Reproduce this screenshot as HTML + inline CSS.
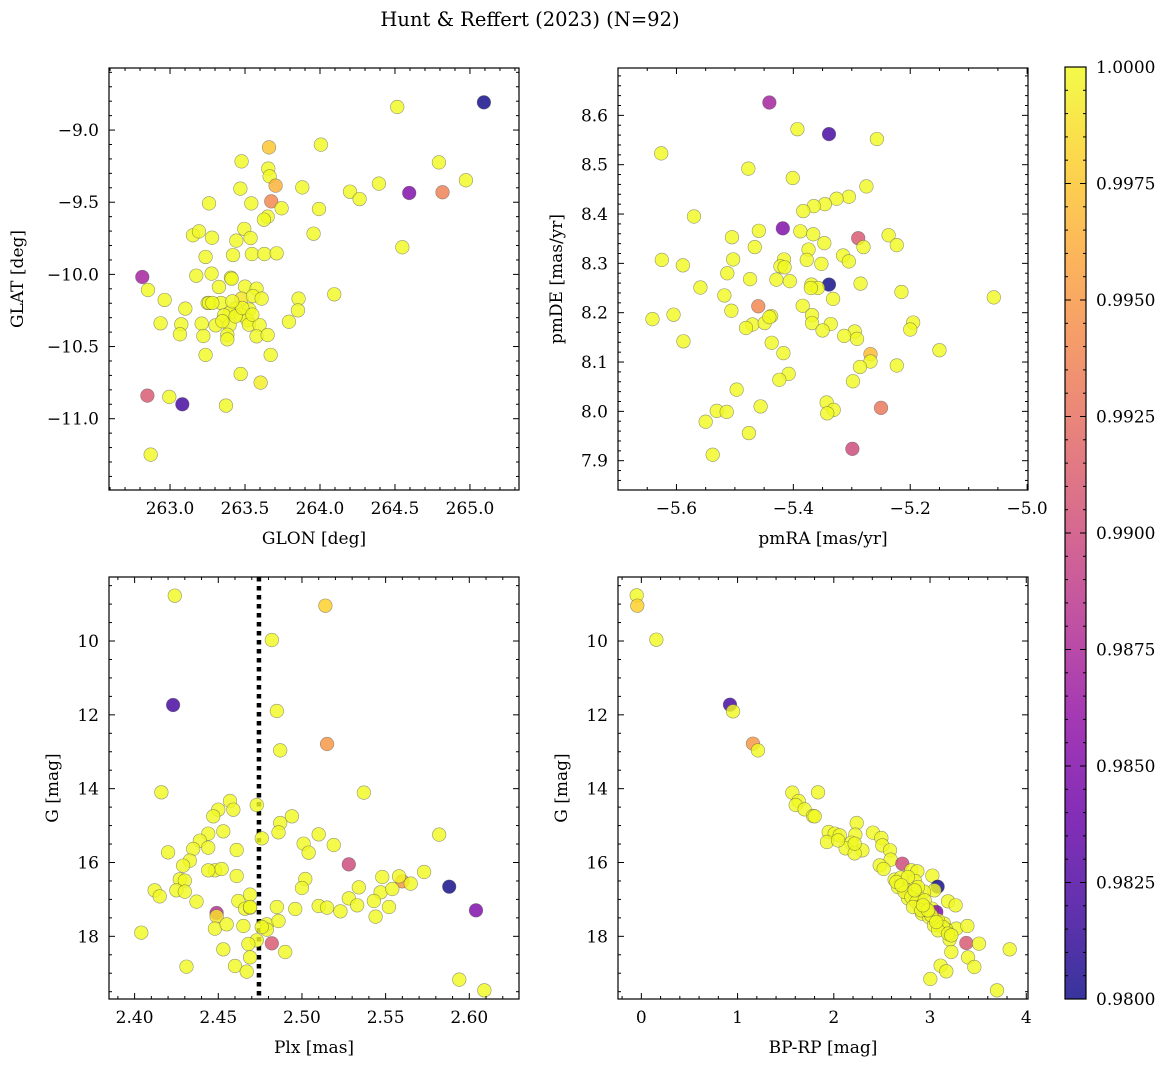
<!DOCTYPE html>
<html><head><meta charset="utf-8">
<style>
html,body{margin:0;padding:0;background:#fff;}
svg{display:block;font-family:"DejaVu Serif","Liberation Serif",serif;}
</style></head>
<body>
<svg id="fig" width="1173" height="1067" viewBox="0 0 1173 1067" xmlns="http://www.w3.org/2000/svg">
<text x="530" y="26" font-size="19.5" text-anchor="middle">Hunt &amp; Reffert (2023) (N=92)</text>
</svg>
<script>
// ---- Panel 1: GLON / GLAT ----
const glon=[265.093,264.515,264.006,263.660,263.477,264.793,263.655,263.664,263.704,263.882,264.973,264.393,264.200,264.264,264.595,264.817,263.469,263.675,263.260,263.542,263.744,263.993,263.651,263.626,263.495,263.153,263.193,263.280,263.537,263.442,263.957,264.549,263.237,263.420,263.546,263.629,263.711,262.815,263.175,263.277,263.406,263.411,263.326,263.500,263.577,262.853,264.095,262.964,263.477,263.553,263.611,263.857,263.251,263.260,263.340,263.102,263.529,263.853,263.437,263.397,263.360,263.471,262.937,263.075,263.211,263.304,263.517,263.526,263.597,263.397,263.793,263.066,263.222,263.382,263.382,263.577,263.651,263.237,263.671,263.471,263.604,262.849,262.995,263.082,263.373,262.871,263.437,263.482,263.349,263.549,263.415,263.282];
const glat=[-8.808,-8.840,-9.101,-9.120,-9.217,-9.224,-9.267,-9.321,-9.385,-9.397,-9.348,-9.371,-9.427,-9.478,-9.436,-9.431,-9.406,-9.494,-9.508,-9.508,-9.542,-9.547,-9.600,-9.621,-9.685,-9.729,-9.702,-9.746,-9.748,-9.766,-9.718,-9.812,-9.879,-9.866,-9.859,-9.859,-9.854,-10.018,-10.009,-9.995,-10.023,-10.030,-10.087,-10.085,-10.099,-10.108,-10.138,-10.177,-10.168,-10.150,-10.168,-10.168,-10.198,-10.198,-10.198,-10.237,-10.244,-10.249,-10.237,-10.267,-10.284,-10.279,-10.339,-10.346,-10.341,-10.353,-10.318,-10.348,-10.351,-10.351,-10.328,-10.415,-10.427,-10.418,-10.450,-10.429,-10.420,-10.558,-10.558,-10.690,-10.750,-10.840,-10.849,-10.900,-10.909,-11.249,-10.291,-10.233,-10.325,-10.279,-10.187,-10.198];
const prob1=[0.980,1,1,0.9975,1,1,1,1,0.9965,1,1,1,1,1,0.985,0.9935,1,0.994,1,1,1,1,1,1,1,1,1,1,1,1,1,1,1,1,1,1,1,0.987,1,1,1,1,1,1,1,1,1,1,0.999,1,1,1,1,1,1,1,1,1,1,1,1,1,1,1,1,1,1,1,1,1,1,1,1,1,1,1,1,1,1,1,0.9995,0.991,1,0.982,1,1,1,1,1,1,1,1];
// ---- Panel 2: pmRA / pmDE ----
const pmra=[-5.441,-5.393,-5.339,-5.257,-5.626,-5.477,-5.401,-5.275,-5.305,-5.326,-5.346,-5.365,-5.383,-5.570,-5.418,-5.459,-5.388,-5.366,-5.505,-5.237,-5.289,-5.347,-5.223,-5.280,-5.466,-5.374,-5.315,-5.625,-5.503,-5.377,-5.416,-5.305,-5.589,-5.422,-5.352,-5.513,-5.474,-5.429,-5.406,-5.369,-5.339,-5.285,-5.358,-5.559,-5.518,-5.215,-5.057,-5.332,-5.460,-5.384,-5.506,-5.605,-5.641,-5.438,-5.368,-5.470,-5.449,-5.481,-5.368,-5.336,-5.195,-5.200,-5.350,-5.295,-5.313,-5.291,-5.588,-5.437,-5.150,-5.417,-5.268,-5.268,-5.286,-5.223,-5.408,-5.424,-5.298,-5.497,-5.343,-5.456,-5.250,-5.531,-5.514,-5.331,-5.342,-5.550,-5.476,-5.299,-5.538,-5.415,-5.441,-5.370];
const pmde=[8.626,8.572,8.562,8.552,8.523,8.492,8.473,8.456,8.435,8.431,8.420,8.416,8.406,8.395,8.371,8.366,8.365,8.359,8.353,8.357,8.351,8.341,8.337,8.333,8.333,8.328,8.316,8.307,8.308,8.307,8.308,8.304,8.296,8.294,8.299,8.280,8.268,8.267,8.264,8.257,8.257,8.259,8.250,8.251,8.235,8.242,8.231,8.228,8.213,8.214,8.204,8.196,8.187,8.193,8.195,8.176,8.179,8.169,8.179,8.177,8.180,8.166,8.164,8.162,8.153,8.147,8.142,8.139,8.124,8.118,8.116,8.101,8.090,8.093,8.076,8.064,8.061,8.044,8.018,8.010,8.007,8.001,7.999,8.003,7.996,7.979,7.956,7.924,7.912,8.292,8.191,8.250];
const prob2=[0.987,1,0.982,1,1,1,1,1,1,1,1,1,1,1,0.985,1,1,1,1,1,0.991,1,1,1,1,1,1,1,1,1,1,1,1,1,1,1,1,1,1,1,0.980,1,1,1,1,1,1,1,0.994,1,1,1,1,1,1,1,1,1,1,1,1,1,1,1,1,1,1,1,1,1,0.997,1,1,1,1,1,1,1,1,1,0.993,1,1,1,1,1,1,0.990,1,1,1,1];
// ---- Panel 3: Plx / G ----
const plx=[2.424,2.514,2.482,2.423,2.485,2.487,2.515,2.416,2.537,2.473,2.457,2.450,2.459,2.447,2.494,2.487,2.486,2.453,2.444,2.439,2.444,2.435,2.461,2.476,2.510,2.501,2.504,2.519,2.582,2.420,2.433,2.429,2.528,2.448,2.452,2.461,2.427,2.430,2.502,2.500,2.548,2.560,2.558,2.565,2.573,2.588,2.412,2.415,2.425,2.430,2.437,2.534,2.547,2.554,2.528,2.543,2.604,2.462,2.469,2.466,2.469,2.485,2.496,2.510,2.515,2.523,2.533,2.552,2.544,2.449,2.449,2.448,2.455,2.465,2.479,2.479,2.486,2.404,2.473,2.468,2.482,2.490,2.453,2.469,2.431,2.460,2.467,2.594,2.609,2.469,2.444,2.476];
const gmag3=[8.772,9.043,9.973,11.734,11.896,12.962,12.790,14.099,14.108,14.442,14.334,14.569,14.569,14.749,14.749,14.930,15.183,15.156,15.219,15.409,15.598,15.634,15.661,15.345,15.237,15.490,15.734,15.526,15.246,15.725,15.950,16.086,16.050,16.212,16.176,16.366,16.456,16.492,16.447,16.691,16.393,16.510,16.375,16.573,16.257,16.655,16.754,16.917,16.754,16.790,17.061,16.673,16.808,16.718,16.971,17.043,17.296,17.043,16.871,17.251,17.223,17.205,17.260,17.178,17.223,17.323,17.160,17.205,17.467,17.368,17.458,17.792,17.675,17.720,17.675,17.819,17.585,17.901,18.108,18.208,18.190,18.424,18.352,18.569,18.822,18.804,18.957,19.174,19.463,17.205,16.212,17.747];
const prob3=[1,0.998,1,0.982,1,1,0.995,1,1,1,1,1,1,1,1,1,1,1,1,1,1,1,1,1,1,1,1,1,1,1,1,1,0.990,1,1,1,1,1,1,1,1,0.995,1,1,1,0.980,1,1,1,1,1,1,1,1,1,1,0.985,1,1,1,1,1,1,1,1,1,1,1,1,0.988,0.999,1,1,1,1,1,1,1,1,1,0.991,1,1,1,1,1,1,1,1,1,1,1];
const plxLine=[2.4743];
// ---- Panel 4: BP-RP / G ----
const bprp=[-0.048,-0.042,0.156,0.921,0.953,1.160,1.212,1.569,1.836,1.635,1.604,1.697,1.784,1.801,2.238,1.947,2.009,2.061,2.224,1.929,2.182,2.123,2.297,2.217,2.407,2.494,2.504,2.584,2.591,2.477,2.518,2.712,2.806,2.868,2.632,2.698,2.844,3.024,3.079,3.045,2.743,2.937,2.771,2.875,3.187,3.266,2.944,3.020,2.917,2.989,3.065,3.041,3.145,3.273,3.169,3.388,3.204,3.377,3.509,3.828,3.221,3.395,3.110,3.169,3.460,3.003,3.696,2.667,2.736,2.806,2.858,2.892,2.962,3.083,3.135,2.771,2.875,2.944,2.650,2.702,2.823,2.910,3.013,3.083,3.187,3.221,2.044,2.217,2.979,2.840,2.927,3.065];
const gmag4=[8.763,9.043,9.964,11.725,11.905,12.781,12.962,14.108,14.099,14.334,14.442,14.560,14.740,14.749,14.930,15.174,15.219,15.264,15.246,15.445,15.463,15.616,15.670,15.752,15.192,15.336,15.535,15.670,15.923,16.077,16.176,16.032,16.212,16.239,16.465,16.411,16.501,16.357,16.655,16.754,16.727,16.790,16.971,16.917,17.052,17.160,17.205,17.251,17.386,17.476,17.341,17.702,17.657,17.792,17.819,17.720,18.090,18.181,18.199,18.352,18.424,18.569,18.795,18.948,18.831,19.156,19.463,16.664,16.799,16.935,17.070,17.205,17.296,17.567,17.747,16.393,16.664,17.025,16.528,16.618,17.205,17.296,17.431,17.837,17.928,17.973,15.400,15.490,17.296,16.754,17.160,17.612];
const prob4=[1,0.998,1,0.982,1,0.995,1,1,1,1,1,1,1,1,1,1,1,1,1,1,1,1,1,1,1,1,1,1,1,1,1,0.990,1,1,1,1,1,1,0.980,1,1,1,1,1,1,1,1,1,1,1,0.985,1,1,1,1,1,1,0.991,1,1,1,1,1,1,1,1,1,1,1,1,1,1,1,1,1,1,1,1,1,1,1,1,1,1,1,1,1,1,1,1,1,1];
// ---- Colorbar ----
const cbarTicks=[0.9800,0.9825,0.9850,0.9875,0.9900,0.9925,0.9950,0.9975,1.0000];

const NS="http://www.w3.org/2000/svg";
const svg=document.getElementById('fig');
function el(tag,attrs,parent){const e=document.createElementNS(NS,tag);for(const k in attrs)e.setAttribute(k,attrs[k]);(parent||svg).appendChild(e);return e;}
const plasma=[[13,8,135],[65,4,157],[106,0,168],[143,13,164],[177,42,144],[204,71,120],[225,100,98],[242,132,75],[252,166,54],[252,206,37],[240,249,33]];
function cmap(t){t=Math.max(0,Math.min(1,t));const f=t*10,i=Math.min(9,Math.floor(f)),r=f-i;const a=plasma[i],b=plasma[i+1];return 'rgb('+[0,1,2].map(k=>Math.round(a[k]+(b[k]-a[k])*r)).join(',')+')';}
const vmin=0.98,vmax=1.0;
function fmt(v,d){const s=Math.abs(v).toFixed(d);return (v<0?'\u2212':'')+s;}

function panel(o){
  const g=el('g',{});
  
  
  const X=v=>o.x0+(v-o.xl[0])/(o.xl[1]-o.xl[0])*o.w;
  const Y=v=>o.y0+(v-o.yl[0])/(o.yl[1]-o.yl[0])*o.h;
  if(o.vline){o.vline.forEach(v=>{const l=el('line',{x1:X(v),x2:X(v),y1:o.y0,y2:o.y0+o.h,stroke:'#000','stroke-width':4.5,'stroke-dasharray':'4.5 4.5'},g);
    
    });}
  for(let i=0;i<o.xs.length;i++){
    const c=el('circle',{cx:X(o.xs[i]),cy:Y(o.ys[i]),r:6.8,fill:cmap((o.ps[i]-vmin)/(vmax-vmin)),'fill-opacity':0.82,stroke:'#555','stroke-opacity':0.6,'stroke-width':0.6},g);
    
    
  }
  const fr=el('rect',{x:o.x0,y:o.y0,width:o.w,height:o.h,fill:'none',stroke:'#000','stroke-width':1.2},g);
  
  
  const eps=1e-9;
  for(let v=Math.ceil((Math.min(...o.xl)-eps)/o.xmin)*o.xmin;v<=Math.max(...o.xl)+eps;v+=o.xmin){
    const isMaj=Math.abs(v/o.xmaj-Math.round(v/o.xmaj))<1e-6;const L=isMaj?6:3;const x=X(v);
    el('line',{x1:x,x2:x,y1:o.y0+o.h,y2:o.y0+o.h-L,stroke:'#000','stroke-width':1},g);
    el('line',{x1:x,x2:x,y1:o.y0,y2:o.y0+L,stroke:'#000','stroke-width':1},g);
    if(isMaj&&x>=o.x0-1&&x<=o.x0+o.w+1){const t=el('text',{x:x,y:o.y0+o.h+24,'font-size':17,'text-anchor':'middle'},g);t.textContent=fmt(v,o.xd);
      
      }
  }
  const ylo=Math.min(...o.yl),yhi=Math.max(...o.yl);
  for(let v=Math.ceil((ylo-eps)/o.ymin)*o.ymin;v<=yhi+eps;v+=o.ymin){
    const isMaj=Math.abs(v/o.ymaj-Math.round(v/o.ymaj))<1e-6;const L=isMaj?6:3;const y=Y(v);
    el('line',{x1:o.x0,x2:o.x0+L,y1:y,y2:y,stroke:'#000','stroke-width':1},g);
    el('line',{x1:o.x0+o.w,x2:o.x0+o.w-L,y1:y,y2:y,stroke:'#000','stroke-width':1},g);
    if(isMaj){const t=el('text',{x:o.x0-10,y:y+6,'font-size':17,'text-anchor':'end'},g);t.textContent=fmt(v,o.yd);
      
      }
  }
  const xt=el('text',{x:o.x0+o.w/2,y:o.y0+o.h+54,'font-size':17,'text-anchor':'middle'},g);xt.textContent=o.xlab;
  
  
  const yt=el('text',{x:o.ylx,y:o.y0+o.h/2,'font-size':17,'text-anchor':'middle',transform:'rotate(-90 '+o.ylx+' '+(o.y0+o.h/2)+')'},g);yt.textContent=o.ylab;
  
  
}
panel({name:'glon-glat-panel',x0:109,y0:68,w:410,h:422,xl:[262.593,265.327],yl:[-8.570,-11.494],xs:glon,ys:glat,ps:prob1,xmaj:0.5,xmin:0.1,ymaj:0.5,ymin:0.1,xd:1,yd:1,xlab:'GLON [deg]',ylab:'GLAT [deg]',ylx:23});
panel({name:'proper-motion-panel',x0:618,y0:68,w:410,h:422,xl:[-5.7,-4.9985],yl:[8.696,7.8406],xs:pmra,ys:pmde,ps:prob2,xmaj:0.2,xmin:0.05,ymaj:0.1,ymin:0.02,xd:1,yd:1,xlab:'pmRA [mas/yr]',ylab:'pmDE [mas/yr]',ylx:562});
panel({name:'parallax-mag-panel',x0:109,y0:577,w:410,h:422,xl:[2.3847,2.6297],yl:[8.266,19.698],xs:plx,ys:gmag3,ps:prob3,xmaj:0.05,xmin:0.01,ymaj:2,ymin:0.5,xd:2,yd:0,xlab:'Plx [mas]',ylab:'G [mag]',ylx:58,vline:plxLine});
panel({name:'cmd-panel',x0:618,y0:577,w:410,h:422,xl:[-0.2425,4.018],yl:[8.266,19.698],xs:bprp,ys:gmag4,ps:prob4,xmaj:1,xmin:0.2,ymaj:2,ymin:0.5,xd:0,yd:0,xlab:'BP-RP [mag]',ylab:'G [mag]',ylx:567});

(function(){
  const cx=1065,cw=21,cy0=67,ch=932;
  const cg=el('g',{});
  
  
  const defs=el('defs',{},cg);
  const lg=el('linearGradient',{id:'cbg',x1:0,y1:1,x2:0,y2:0},defs);
  for(let i=0;i<=10;i++){el('stop',{offset:(i*10)+'%','stop-color':cmap(i/10),'stop-opacity':0.82},lg);}
  el('rect',{x:cx,y:cy0,width:cw,height:ch,fill:'url(#cbg)',stroke:'#000','stroke-width':1.2},cg);
  const CY=v=>cy0+(vmax-v)/(vmax-vmin)*ch;
  for(let k=0;k<=40;k++){const v=vmin+k*0.0005;const y=CY(v);const maj=k%5===0;
    el('line',{x1:cx+cw,x2:cx+cw-(maj?6:3),y1:y,y2:y,stroke:'#000','stroke-width':1},cg);
    el('line',{x1:cx,x2:cx+(maj?6:3),y1:y,y2:y,stroke:'#000','stroke-width':1},cg);}
  cbarTicks.forEach(v=>{const t=el('text',{x:cx+cw+10,y:CY(v)+6,'font-size':17},cg);t.textContent=v.toFixed(4);
    
    });
})();
</script>
</body></html>
